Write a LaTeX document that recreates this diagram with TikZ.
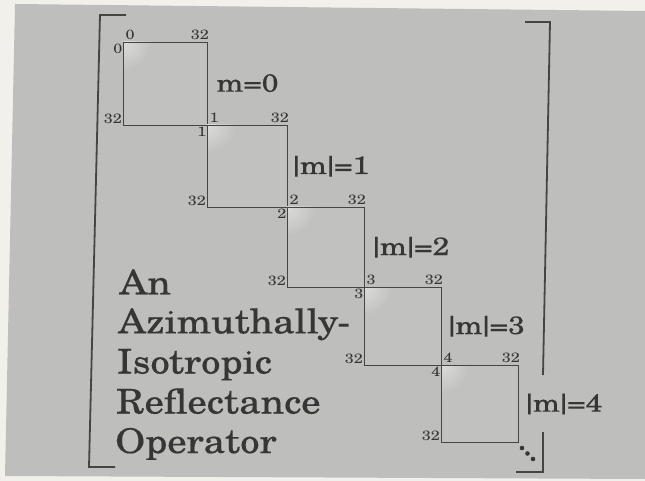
\documentclass[tikz,border=0pt]{standalone}
\usepackage{fontspec}
\setmainfont{TeX Gyre Schola}[FakeStretch=1.2]
\newfontfamily\titlefont{TeX Gyre Schola}[FakeStretch=1.135,FakeBold=0.3]
\newfontfamily\labelfont{TeX Gyre Schola}[FakeStretch=1.21,FakeBold=0.15]
\usetikzlibrary{calc}
\definecolor{paper}{HTML}{F1F0EB}
\definecolor{bggray}{HTML}{BEBEBC}
\definecolor{boxfill}{HTML}{C1C1BF}
\definecolor{hilite}{HTML}{DCDCDA}
\definecolor{ink}{HTML}{454545}
\definecolor{txt}{HTML}{363636}
\newcommand\vb{\kern-0.22em|\kern-0.22em}
\begin{document}
\begin{tikzpicture}[x=1pt,y=-1pt,
  bracketline/.style={draw=ink,line width=1.8pt},
  boxline/.style={draw=ink,line width=0.9pt},
  num/.style={inner sep=0pt,text=txt,font=\fontsize{13.5}{14}\selectfont},
  mlabel/.style={inner sep=0pt,anchor=base,text=txt,font=\labelfont\fontsize{25}{28}\selectfont},
  title/.style={inner sep=0pt,anchor=base west,text=txt,font=\titlefont\fontsize{34}{40}\selectfont}]
\useasboundingbox (0,0) rectangle (645,481);
\fill[paper] (0,0) rectangle (645,481);
\fill[bggray] (15,4) -- (645,11) -- (645,479) -- (5,476) -- cycle;
% block corners
\coordinate (c0) at (123,42);
\coordinate (c1) at (207,125);
\coordinate (c2) at (287,207);
\coordinate (c3) at (364,287);
\coordinate (c4) at (441,365);
\coordinate (c5) at (518,442);
\foreach \i/\j in {0/1,1/2,2/3,3/4,4/5}{
  \begin{scope}
    \clip (c\i) rectangle (c\j);
    \fill[boxfill] (c\i) rectangle (c\j);
    \shade[inner color=hilite,outer color=boxfill] (c\i) circle (28pt);
  \end{scope}
  \draw[boxline] (c\i) rectangle (c\j);
  \node[num,anchor=south west] (t\i) at ($(c\i)+(2.5,-2.5)$) {\i};
  \node[num,anchor=north east] (l\i) at ($(c\i)+(-0.5,1.5)$) {\i};
  \node[num,anchor=south east] (tr\i) at ($(c\j |- c\i)+(2,-2)$) {32};
  \node[num,anchor=south east] (bl\i) at ($(c\i |- c\j)+(-1,-1)$) {32};
}
% labels
\node[mlabel] (m0) at (247.5,91.7) {m=0};
\node[mlabel] (m1) at (331,174) {\vb m\vb=1};
\node[mlabel] (m2) at (411,255) {\vb m\vb=2};
\node[mlabel] (m3) at (486.5,334) {\vb m\vb=3};
\node[mlabel] (m4) at (564,411.7) {\vb m\vb=4};
% brackets
\coordinate (lb1) at (126,15);
\coordinate (lb2) at (100,15);
\coordinate (lb3) at (89,467);
\coordinate (lb4) at (115,467);
\draw[bracketline] (lb1) -- (lb2) -- (lb3) -- (lb4);
\coordinate (rb1) at (525,22);
\coordinate (rb2) at (550,22);
\coordinate (rb3) at (543,375);
\coordinate (rb4) at (543,432);
\coordinate (rb5) at (543,472);
\coordinate (rb6) at (516,472);
\draw[bracketline] (rb1) -- (rb2) -- (rb3);
\draw[bracketline] (rb4) -- (rb5) -- (rb6);
% dots
\fill[txt] (522,448) circle (2.3pt) (527.5,453.5) circle (2.3pt) (533,459) circle (2.3pt);
% title
\node[title] (ln1) at (119.3,294.3) {An};
\node[title] (ln2) at (118,333.3) {Azimuthally-};
\node[title] (ln3) at (116.7,373.5) {Isotropic};
\node[title] (ln4) at (116,413.5) {Reflectance};
\node[title] (ln5) at (115,453) {Operator};
\end{tikzpicture}
\end{document}
